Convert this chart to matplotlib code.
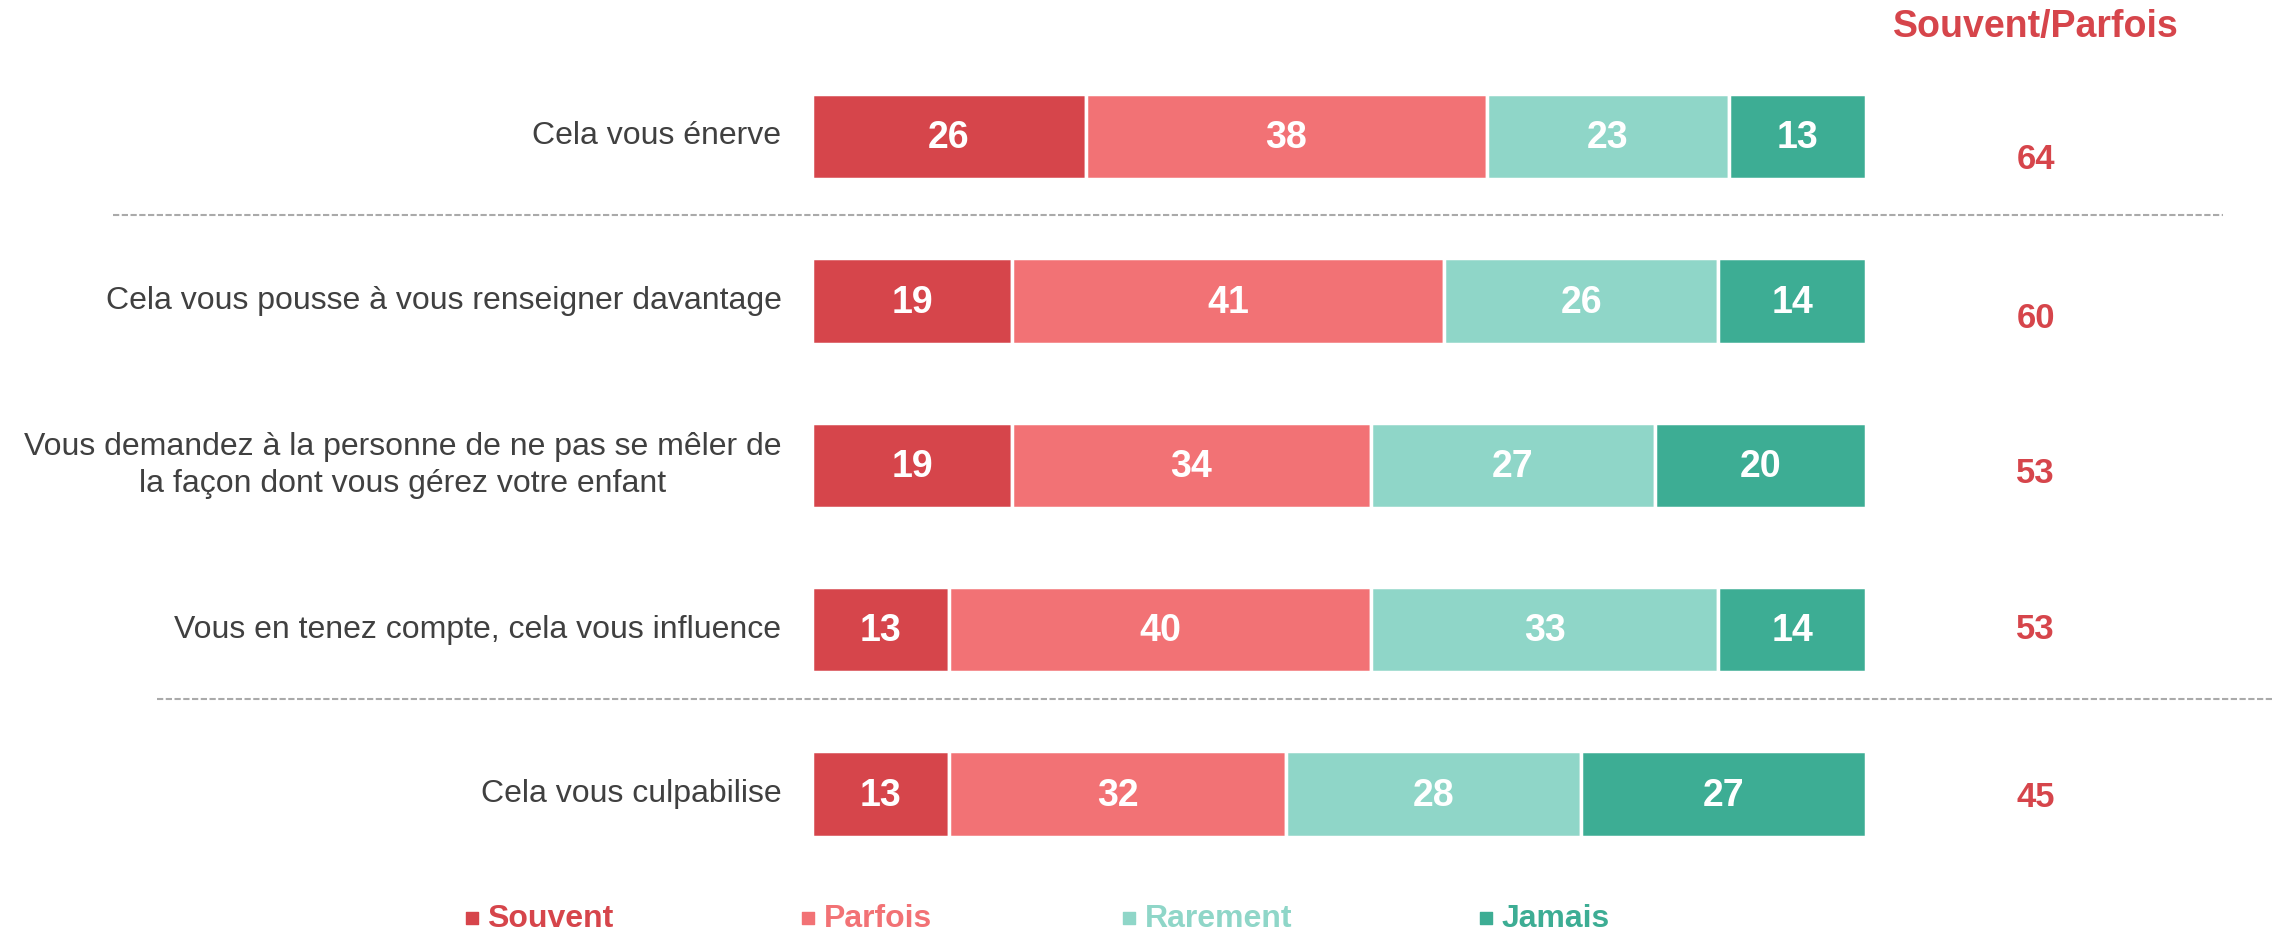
import matplotlib.pyplot as plt
import numpy as np

plt.rcParams['font.family'] = ['Liberation Sans', 'DejaVu Sans']

labels = ["Cela vous énerve",
          "Cela vous pousse à vous renseigner davantage",
          "Vous demandez à la personne de ne pas se mêler de\nla façon dont vous gérez votre enfant",
          "Vous en tenez compte, cela vous influence",
          "Cela vous culpabilise"]
series = ["Souvent", "Parfois", "Rarement", "Jamais"]
souvent = [26, 19, 19, 13, 13]
parfois = [38, 41, 34, 40, 32]
rarement = [23, 26, 27, 33, 28]
jamais = [13, 14, 20, 14, 27]
total_sp = [64, 60, 53, 53, 45]

colors = ['#D6454B', '#F27275', '#8FD6C8', '#3DAD94']

fig = plt.figure(figsize=(22.75, 9.32), dpi=100)
# axes covers the bar area horizontally, the full height vertically
ax = fig.add_axes([812 / 2275, 0, 1054 / 2275, 1])

y = np.arange(len(labels))
left = np.zeros(len(labels))
for vals, col in zip([souvent, parfois, rarement, jamais], colors):
    vals = np.array(vals)
    ax.barh(y, vals, left=left, height=0.52, color=col, edgecolor='white', linewidth=2.5)
    for yi, l, v in zip(y, left, vals):
        ax.text(l + v / 2, yi + 0.01, str(v), ha='center', va='center', color='white',
                fontsize=27, fontweight='bold')
    left += vals

# question labels
for yi, lab in zip(y, labels):
    ax.text(-2.9, yi, lab, ha='right', va='center', multialignment='center',
            fontsize=23, color='#404040', linespacing=1.3)

# Souvent/Parfois column
ax.text(116.1, -0.665, "Souvent/Parfois", ha='center', va='center', fontsize=27,
        fontweight='bold', color='#D6454B')
sp_offset = [0.14, 0.11, 0.05, 0.0, 0.02]
for yi, v, off in zip(y, total_sp, sp_offset):
    ax.text(116.1, yi + off, str(v), ha='center', va='center', fontsize=25,
            fontweight='bold', color='#D6454B')

# dashed separators
ax.plot([-66.3, 133.9], [0.48, 0.48], ls=(0, (3, 1.2)), color='#AAAAAA', lw=1.5, clip_on=False)
ax.plot([-62.1, 138.5], [3.42, 3.42], ls=(0, (3, 1.2)), color='#AAAAAA', lw=1.5, clip_on=False)

# legend
leg_x = [-32.3, -0.4, 30.1, 63.9]
for lx, name, col in zip(leg_x, series, colors):
    ax.scatter([lx], [4.752], marker='s', s=70, color=col, clip_on=False)
    ax.text(lx + 1.5, 4.76, name, ha='left', va='center', fontsize=23,
            fontweight='bold', color=col)

ax.set_xlim(0, 100)
ax.set_ylim(4.839, -0.830)
ax.axis('off')

plt.savefig('out.png', dpi=100)
